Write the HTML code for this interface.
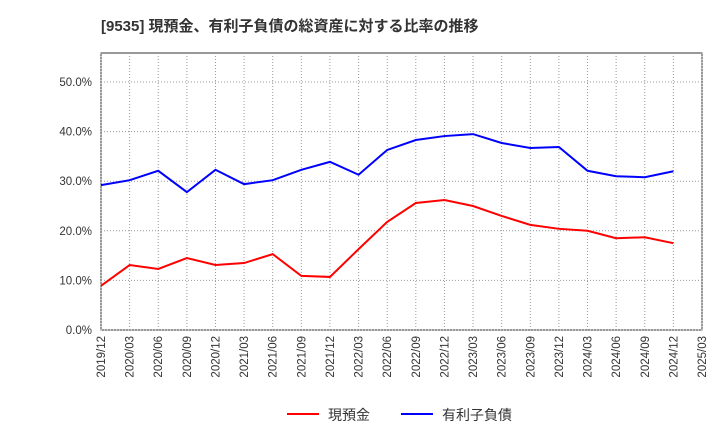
<!DOCTYPE html>
<html><head><meta charset="utf-8"><style>
body{margin:0;background:#fff;}
svg text{font-family:"Liberation Sans","Noto Sans CJK JP",sans-serif;}
</style></head><body>
<svg id="chart" width="720" height="440" xmlns="http://www.w3.org/2000/svg">
<text x="101" y="31" font-size="15" font-weight="bold" fill="#333">[9535]  現預金、有利子負債の総資産に対する比率の推移</text>
<rect x="101" y="53" width="601" height="277" fill="#fff" stroke="#333" stroke-width="1"/>
<g id="grid"></g><g id="axes"></g><g id="series"></g>
<g>
<line x1="287" y1="414" x2="319" y2="414" stroke="#f00" stroke-width="2"/>
<text x="328" y="420" font-size="14" fill="#333">現預金</text>
<line x1="401" y1="414" x2="433" y2="414" stroke="#00f" stroke-width="2"/>
<text x="442" y="420" font-size="14" fill="#333">有利子負債</text>
</g>
</svg>
<script>
const categories=["2019/12","2020/03","2020/06","2020/09","2020/12","2021/03","2021/06","2021/09","2021/12","2022/03","2022/06","2022/09","2022/12","2023/03","2023/06","2023/09","2023/12","2024/03","2024/06","2024/09","2024/12","2025/03"];
const cashValues=[8.9,13.1,12.3,14.5,13.1,13.5,15.3,10.9,10.7,16.3,21.8,25.6,26.2,25.0,23.0,21.2,20.4,20.0,18.5,18.7,17.5];
const debtValues=[29.2,30.2,32.1,27.8,32.3,29.4,30.2,32.3,33.9,31.3,36.3,38.3,39.1,39.5,37.7,36.7,36.9,32.1,31.0,30.8,32.0];
const yTicks=[0,10,20,30,40,50];
const NS="http://www.w3.org/2000/svg";
const X0=101,X1=702,Y0=330,Y1=53;
const xs=i=>X0+(X1-X0)*i/(categories.length-1);
const ys=v=>Y0-v*(330-82)/50;
function mk(tag,attrs,parent){const e=document.createElementNS(NS,tag);for(const k in attrs)e.setAttribute(k,attrs[k]);document.getElementById(parent).appendChild(e);return e;}
yTicks.forEach(v=>{
 const y=ys(v);
 const g=mk("line",{x1:X0,x2:X1,y1:y,y2:y,stroke:"#999","stroke-dasharray":"1,2"},"grid");
 
 
 const t=mk("text",{x:X0-9,y:y+4,"font-size":"11.5","text-anchor":"end",fill:"#333"},"axes");
 t.textContent=v.toFixed(1)+"%";
 
 
});
categories.forEach((c,i)=>{
 const x=xs(i);
 const g=mk("line",{x1:x,x2:x,y1:Y1,y2:Y0,stroke:"#999","stroke-dasharray":"1,2"},"grid");
 
 
 const t=mk("text",{x:0,y:0,"font-size":"11.5","text-anchor":"end",fill:"#333",transform:`translate(${x+4},${Y0+6}) rotate(-90)`},"axes");
 t.textContent=c;
 
 
});
function line(vals,color,name){
 const p=mk("polyline",{points:vals.map((v,i)=>xs(i)+","+ys(v)).join(" "),fill:"none",stroke:color,"stroke-width":"2"},"series");
 
 
}
line(cashValues,"#f00","cash-ratio-line");
line(debtValues,"#00f","debt-ratio-line");
</script>
</body></html>
